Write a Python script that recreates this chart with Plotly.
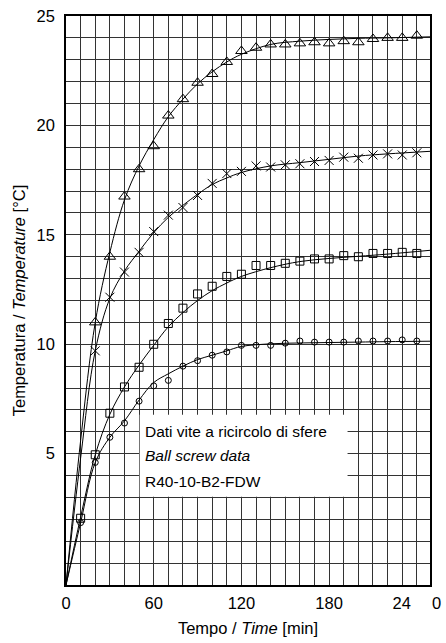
import plotly.graph_objects as go

# --- measured ball-screw temperature data (time in minutes, temperature in °C) ---
time_tri = [20, 30, 40, 50, 60, 70, 80, 90, 100, 110, 120, 130, 140, 150, 160,
            170, 180, 190, 200, 210, 220, 230, 240]
temp_tri = [11.0, 14.0, 16.75, 18.0, 19.05, 20.45, 21.2, 21.95, 22.35, 22.9, 23.4,
            23.55, 23.7, 23.7, 23.75, 23.8, 23.75, 23.85, 23.8, 23.95, 24.0, 24.0, 24.1]

time_x = time_tri
temp_x = [9.7, 12.15, 13.3, 14.2, 15.15, 15.9, 16.25, 16.8, 17.35, 17.8, 17.9,
          18.15, 18.1, 18.2, 18.25, 18.35, 18.4, 18.55, 18.5, 18.65, 18.7, 18.65, 18.75]

time_sq = [10, 20, 30, 40, 50, 60, 70, 80, 90, 100, 110, 120, 130, 140, 150, 160,
           170, 180, 190, 200, 210, 220, 230, 240]
temp_sq = [2.05, 4.95, 6.85, 8.05, 8.95, 10.0, 10.95, 11.65, 12.3, 12.65, 13.1, 13.2,
           13.6, 13.6, 13.7, 13.8, 13.9, 13.9, 14.05, 14.0, 14.15, 14.15, 14.2, 14.15]

time_circ = time_sq
temp_circ = [1.85, 4.6, 5.75, 6.4, 7.4, 8.1, 8.35, 9.0, 9.25, 9.5, 9.65, 9.95,
             9.95, 9.95, 10.05, 10.15, 10.1, 10.1, 10.1, 10.15, 10.15, 10.15, 10.2, 10.15]

# --- fitted warm-up curves ---
fit_time = [0, 10, 20, 30, 40, 50, 60, 70, 80, 90, 100, 110, 120, 140, 160, 180, 200, 220, 250]
fit_tri = [-1, 5.6, 11.0, 14.2, 16.6, 18.15, 19.35, 20.4, 21.2, 21.9, 22.45, 22.9,
           23.25, 23.7, 23.85, 23.93, 23.98, 24.0, 24.05]
fit_x = [-1, 4.8, 9.7, 12.1, 13.35, 14.25, 15.1, 15.8, 16.35, 16.85, 17.3, 17.6,
         17.85, 18.15, 18.3, 18.45, 18.6, 18.7, 18.82]
fit_sq = [-1, 2.1, 4.95, 6.8, 8.05, 9.05, 9.95, 10.8, 11.45, 12.0, 12.45, 12.8,
          13.1, 13.5, 13.78, 13.92, 14.02, 14.12, 14.3]
fit_circ = [-1, 1.85, 4.6, 5.75, 6.5, 7.45, 8.25, 8.65, 9.0, 9.3, 9.5, 9.7,
            9.9, 10.02, 10.06, 10.08, 10.1, 10.12, 10.14]

x_tick_vals = [0, 60, 120, 180, 240]
x_tick_text = ["0", "60", "120", "180", "24\u2002\u2002 0"]
y_tick_vals = [5, 10, 15, 20, 25]
y_tick_text = ["5", "10", "15", "20", "25"]

FONT = "Liberation Sans, Arial, sans-serif"
GRID = "#333333"

fig = go.Figure()

for fit in (fit_tri, fit_x, fit_sq, fit_circ):
    fig.add_trace(go.Scatter(
        x=fit_time, y=fit, mode="lines",
        line=dict(color="black", width=1, shape="spline"),
        hoverinfo="skip", showlegend=False))

series = [
    (time_tri, temp_tri, "triangle-up-open", 10),
    (time_x, temp_x, "x-thin-open", 9),
    (time_sq, temp_sq, "square-open", 8),
    (time_circ, temp_circ, "circle-open", 6),
]
for t, v, sym, size in series:
    fig.add_trace(go.Scatter(
        x=t, y=v, mode="markers", showlegend=False,
        marker=dict(symbol=sym, size=size, color="black",
                    line=dict(color="black", width=1))))

# white label panel with the data description
fig.add_shape(type="rect", xref="x", yref="y", x0=50.4, x1=192.6, y0=3.03, y1=6.78,
              fillcolor="white", line=dict(width=0), layer="between")

panel_lines = [
    ("Dati vite a ricircolo di sfere", 6.0),
    ("<i>Ball screw data</i>", 4.93),
    ("R40-10-B2-FDW", 3.72),
]
for txt, yv in panel_lines:
    fig.add_annotation(x=52.6, y=yv, xref="x", yref="y", text=txt, showarrow=False,
                       xanchor="left", yanchor="middle",
                       font=dict(family=FONT, size=15.5, color="black"))

axis_common = dict(
    showline=True, linecolor="black", linewidth=1.5, mirror=True,
    zeroline=False, showgrid=True, gridcolor=GRID, gridwidth=1.1,
    ticks="outside", tickcolor="rgba(0,0,0,0)",
    tickfont=dict(family=FONT, size=16.5, color="black"),
)

fig.update_xaxes(
    range=[0, 249], tickmode="array", tickvals=x_tick_vals, ticktext=x_tick_text,
    ticklen=2,
    minor=dict(tickmode="linear", tick0=0, dtick=10, showgrid=True,
               gridcolor=GRID, gridwidth=1.1, ticklen=0),
    title=dict(text="Tempo / <i>Time</i> [min]", standoff=12,
               font=dict(family=FONT, size=16.5, color="black")),
    **axis_common)

fig.update_yaxes(
    range=[-1, 25], tickmode="array", tickvals=y_tick_vals, ticktext=y_tick_text,
    ticklen=6,
    minor=dict(tickmode="linear", tick0=0, dtick=1, showgrid=True,
               gridcolor=GRID, gridwidth=1.1, ticklen=0),
    title=dict(text="Temperatura / <i>Temperature</i> [°C]", standoff=7,
               font=dict(family=FONT, size=16.5, color="black")),
    **axis_common)

fig.update_layout(
    width=446, height=643,
    margin=dict(l=66, r=16, t=16, b=58, autoexpand=False),
    paper_bgcolor="white", plot_bgcolor="white",
    font=dict(family=FONT, color="black"),
)

fig.write_html("out.html")
